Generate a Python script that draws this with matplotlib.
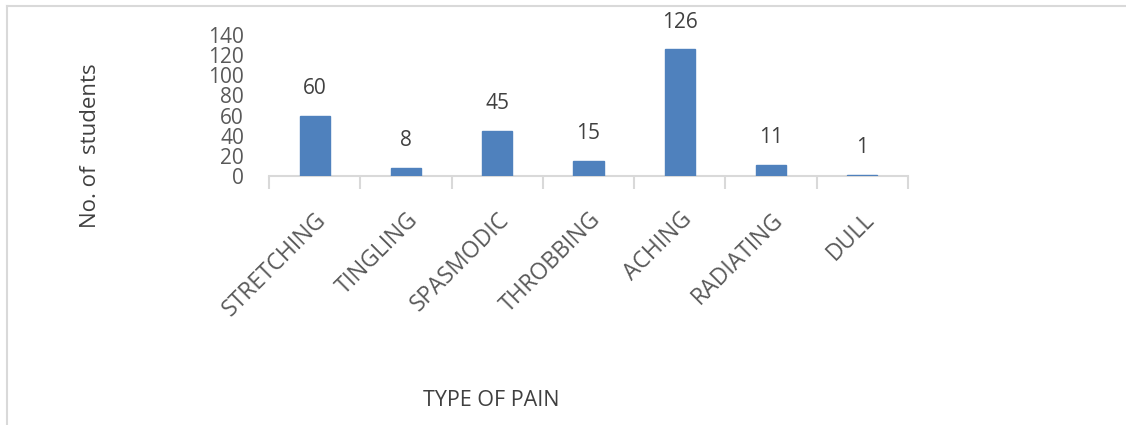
import numpy as np
import matplotlib.pyplot as plt
from matplotlib.lines import Line2D
from matplotlib.transforms import ScaledTranslation

plt.rcParams['font.family'] = ['Open Sans', 'DejaVu Sans']

# data
pain_types = ['STRETCHING', 'TINGLING', 'SPASMODIC', 'THROBBING', 'ACHING', 'RADIATING', 'DULL']
students = [60, 8, 45, 15, 126, 11, 1]
y_ticks = [0, 20, 40, 60, 80, 100, 120, 140]

grey = '#595959'
text_grey = '#404040'
line_grey = '#d9d9d9'

fig = plt.figure(figsize=(11.26, 4.25), dpi=100)
ax = fig.add_axes([269 / 1126, 1 - 176 / 425, (908 - 269) / 1126, (176 - 35) / 425])

x = np.arange(len(pain_types))
ax.bar(x, students, width=0.33, color='#4f81bd', edgecolor='#4f81bd', zorder=3)

for xi, v in zip(x, students):
    ax.annotate(str(v), (xi, v), xytext=(0, 27), textcoords='offset pixels',
                ha='center', va='center', fontsize=15, color=text_grey)

ax.set_xlim(-0.5, len(pain_types) - 0.5)
ax.set_ylim(0, 140)
ax.set_yticks(y_ticks)
ax.set_yticklabels([str(t) for t in y_ticks], fontsize=15, color=grey)
ax.tick_params(axis='y', length=0, pad=18)

ax.set_xticks(x)
ax.set_xticklabels(pain_types, rotation=45, ha='right', va='top',
                   rotation_mode='anchor', fontsize=16.5, color=grey)
shift = ScaledTranslation(-8 / 100, 0, fig.dpi_scale_trans)
for lab in ax.get_xticklabels():
    lab.set_transform(lab.get_transform() + shift)
ax.set_xticks(np.arange(-0.5, len(pain_types)), minor=True)
ax.tick_params(axis='x', which='major', length=0, pad=23)
ax.tick_params(axis='x', which='minor', length=9, width=1.5, color=line_grey)

for s in ['top', 'right', 'left']:
    ax.spines[s].set_visible(False)
ax.spines['bottom'].set_color(line_grey)
ax.spines['bottom'].set_linewidth(1.5)

fig.text(90 / 1126, 1 - 146 / 425, 'No. of  students', rotation=90,
         ha='center', va='center', fontsize=16, color=text_grey)
fig.text(491 / 1126, 1 - 401 / 425, 'TYPE OF PAIN',
         ha='center', va='center', fontsize=15.5, color=text_grey)

# outer border (top and left edges visible)
fig.add_artist(Line2D([7 / 1126, 1], [1 - 6 / 425, 1 - 6 / 425],
                      transform=fig.transFigure, color=line_grey, linewidth=1.5))
fig.add_artist(Line2D([7 / 1126, 7 / 1126], [0, 1 - 6 / 425],
                      transform=fig.transFigure, color=line_grey, linewidth=1.5))

fig.savefig('out.png', dpi=100)
